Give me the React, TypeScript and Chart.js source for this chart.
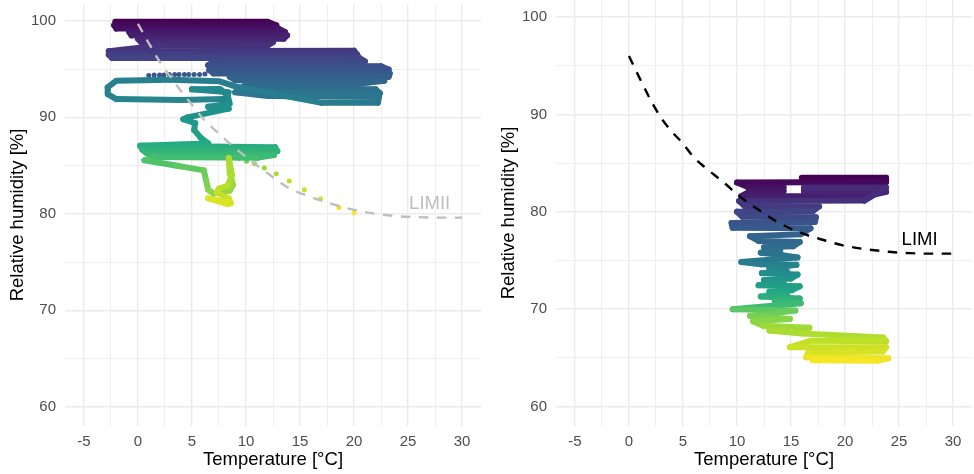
import React, { useEffect, useRef } from "react";
import { Chart, registerables } from "chart.js";

Chart.register(...registerables);

// ---------- axes ----------
const X_MIN = -6.75;
const X_MAX = 31.75;
const Y_MIN = 58;
const Y_MAX = 101.75;
const xMajor = [-5, 0, 5, 10, 15, 20, 25, 30];
const xMinor = [-2.5, 2.5, 7.5, 12.5, 17.5, 22.5, 27.5];
const yMajor = [60, 70, 80, 90, 100];
const yMinor = [65, 75, 85, 95];
const xTitle = "Temperature [°C]";
const yTitle = "Relative humidity [%]";

// ---------- left panel: measured path (temperature, RH, observation fraction) ----------
const leftTemp = [
  -2.1, 12.0, 12.8, -2.2, -2.0, 13.0, 13.6, -0.8, -0.6, 13.8, 13.5, 0.0, 0.3, 12.5, 12.0, 2.0,
  -2.7, 20.0, 20.3, -2.7, -2.4, 20.5, 21.0, 7.0, 6.5, 22.5, 23.2, 6.6, 7.0, 23.3, 23.2, 8.5, 9.0, 22.8, 19.5, 10.0, 9.5, 22.0, 22.4, 9.0, 12.0, 22.3, 22.2, 17.0,
  9.0, 7.5, 3.0, -2.0, -2.8, -2.8, -2.0, 4.0, 8.0, 8.4, 5.0, 7.6, 8.3, 8.5,
  6.5, 8.4, 4.6, 4.2, 5.3, 5.2, 5.8,
  6.5, 0.2, 12.7, 12.9, 0.4, 0.8, 12.6, 11.0, 1.5, 0.6,
  3.5, 6.1, 6.3, 6.5, 7.0, 8.5, 8.8, 8.5, 8.4, 8.7, 8.3, 7.5, 7.3, 8.4, 8.6, 6.5, 8.3,
];
const leftRH = [
  99.9, 99.9, 99.55, 99.55, 99.2, 99.2, 98.85, 98.85, 98.5, 98.5, 98.15, 98.15, 97.8, 97.8, 97.45, 97.45,
  96.85, 96.9, 96.5, 96.5, 96.15, 96.15, 95.8, 95.8, 95.4, 95.3, 94.95, 94.9, 94.55, 94.55, 94.2, 94.2, 93.85, 93.8, 93.35, 93.4, 93.0, 92.9, 92.5, 92.6, 92.2, 92.1, 91.5, 91.5,
  93.2, 93.75, 93.9, 93.8, 93.1, 92.4, 91.9, 91.8, 91.9, 92.6, 92.9, 92.95, 92.3, 91.4,
  91.1, 90.9, 90.0, 89.8, 89.4, 88.7, 87.9,
  87.3, 87.05, 86.9, 86.5, 86.65, 86.3, 86.1, 85.8, 85.9, 85.55,
  85.0, 84.5, 83.5, 82.5, 82.1, 82.4, 83.0, 84.2, 85.8, 84.0, 82.9, 82.6, 82.2, 81.6, 81.1, 81.6, 81.0,
];
const leftTime = [
  0, 0.01, 0.02, 0.03, 0.04, 0.05, 0.06, 0.07, 0.08, 0.09, 0.1, 0.11, 0.12, 0.13, 0.14, 0.15,
  0.16, 0.17, 0.18, 0.19, 0.2, 0.21, 0.22, 0.23, 0.24, 0.25, 0.26, 0.27, 0.28, 0.29, 0.3, 0.31, 0.32, 0.33, 0.34, 0.35, 0.36, 0.37, 0.38, 0.39, 0.39, 0.4, 0.41, 0.42,
  0.42, 0.42, 0.43, 0.43, 0.44, 0.44, 0.45, 0.45, 0.46, 0.46, 0.47, 0.47, 0.48, 0.48,
  0.49, 0.5, 0.51, 0.52, 0.54, 0.56, 0.58,
  0.6, 0.62, 0.63, 0.64, 0.65, 0.66, 0.68, 0.69, 0.7, 0.72,
  0.75, 0.77, 0.8, 0.82, 0.83, 0.84, 0.85, 0.86, 0.87, 0.88, 0.89, 0.9, 0.91, 0.93, 0.94, 0.95, 0.96,
];
// isolated readings (left panel)
const leftDotTemp = [1.0, 1.5, 2.0, 2.4, 2.9, 3.4, 3.8, 4.3, 4.7, 5.2, 5.7, 6.2, 9.35, 10.05, 10.8, 11.7, 12.8, 14.0, 15.4, 16.9, 18.6, 20.0];
const leftDotRH = [94.35, 94.4, 94.4, 94.4, 94.45, 94.45, 94.45, 94.45, 94.45, 94.45, 94.45, 94.5, 85.75, 85.45, 85.2, 84.75, 84.15, 83.4, 82.5, 81.55, 80.65, 80.1];
const leftDotTime = [0.26, 0.26, 0.26, 0.27, 0.27, 0.27, 0.27, 0.28, 0.28, 0.28, 0.28, 0.28, 0.76, 0.79, 0.82, 0.85, 0.87, 0.9, 0.92, 0.95, 0.97, 1.0];
// LIM II curve
const limiiTemp = [0, 1, 2, 3, 4, 5, 6, 7, 8, 9, 10, 12, 14, 16, 18, 20, 22, 24, 26, 28, 30];
const limiiRH = [99.7, 97.7, 95.8, 94.2, 92.7, 91.3, 89.9, 88.8, 87.8, 86.8, 85.9, 84.2, 82.65, 81.75, 81.0, 80.4, 80.0, 79.75, 79.65, 79.6, 79.6];
const limiiLabel = "LIMII";
const limiiLabelTemp = 27;
const limiiLabelRH = 81;

// ---------- right panel ----------
const rightTemp = [
  16.0, 23.8, 23.8, 10.0, 11.0, 14.3, 14.3, 11.2, 10.4, 22.0, 23.8, 16.2, 16.2, 23.8, 21.8, 10.2, 10.7, 17.6, 17.0, 10.0, 10.5, 17.3, 17.2, 9.5, 9.6, 16.8,
  15.9, 11.2, 12.0, 15.8, 15.2, 12.5, 14.0, 12.2, 14.2, 15.6, 10.4, 12.2, 15.5, 13.0, 14.6, 12.3, 15.6, 15.0, 12.5, 14.3, 12.0, 15.8, 15.1, 13.0, 14.6, 12.2, 15.8, 13.5, 15.9,
  9.6, 15.4, 11.2, 14.9, 11.5, 12.4, 16.7, 13.0, 16.0,
  23.5, 23.8, 16.8, 14.9, 23.8, 23.5, 16.6,
  16.4, 24.0, 23.0, 17.0,
];
const rightRH = [
  83.5, 83.5, 83.05, 83.0, 82.55, 82.55, 82.1, 82.1, 81.6, 81.6, 82.05, 82.05, 82.5, 82.5, 81.15, 81.1, 80.6, 80.55, 80.05, 80.0, 79.5, 79.45, 78.95, 78.85, 78.35, 78.3,
  77.7, 77.5, 77.0, 76.9, 76.45, 76.35, 76.05, 75.8, 75.55, 75.3, 74.85, 74.6, 74.55, 74.2, 73.9, 73.7, 73.55, 73.15, 73.0, 72.7, 72.45, 72.35, 71.95, 71.8, 71.5, 71.3, 71.1, 70.8, 70.6,
  70.0, 69.85, 69.3, 69.0, 68.75, 68.3, 68.1, 67.8, 67.5,
  67.1, 66.7, 66.75, 66.1, 66.1, 65.65, 65.55,
  65.05, 64.95, 64.7, 64.75,
];
const rightTime = [
  0, 0.01, 0.02, 0.03, 0.04, 0.05, 0.06, 0.07, 0.08, 0.09, 0.1, 0.11, 0.12, 0.13, 0.14, 0.15, 0.17, 0.18, 0.2, 0.21, 0.22, 0.24, 0.25, 0.27, 0.28, 0.29,
  0.31, 0.32, 0.33, 0.34, 0.35, 0.36, 0.37, 0.38, 0.39, 0.4, 0.42, 0.43, 0.44, 0.46, 0.47, 0.48, 0.5, 0.51, 0.52, 0.54, 0.55, 0.57, 0.58, 0.6, 0.61, 0.63, 0.64, 0.66, 0.68,
  0.74, 0.77, 0.8, 0.82, 0.83, 0.85, 0.86, 0.87, 0.88,
  0.89, 0.9, 0.91, 0.92, 0.93, 0.94, 0.95,
  0.97, 0.98, 0.99, 1.0,
];
// LIM I curve
const limiTemp = [0, 1, 2, 3, 4, 5, 6, 7, 8, 9, 10, 12, 14, 16, 18, 20, 22, 24, 26, 28, 30];
const limiRH = [96.0, 93.7, 91.5, 89.6, 88.2, 87.0, 85.6, 84.6, 83.7, 82.8, 81.8, 80.2, 78.8, 77.8, 77.1, 76.5, 76.15, 75.9, 75.75, 75.7, 75.7];
const limiLabel = "LIMI";
const limiLabelTemp = 26.9;
const limiLabelRH = 77.1;

// ---------- styling helpers ----------
const FONT = "'Liberation Sans', Arial, Helvetica, sans-serif";
const VIRIDIS = ["#440154", "#482475", "#414487", "#355f8d", "#2a788e", "#21918c", "#22a884", "#44bf70", "#7ad151", "#bddf26", "#fde725"];

function hexToRgb(h: string) {
  return [parseInt(h.slice(1, 3), 16), parseInt(h.slice(3, 5), 16), parseInt(h.slice(5, 7), 16)];
}
function viridis(t: number) {
  const c = Math.max(0, Math.min(1, t)) * 10;
  const i = Math.min(9, Math.floor(c));
  const f = c - i;
  const a = hexToRgb(VIRIDIS[i]);
  const b = hexToRgb(VIRIDIS[i + 1]);
  const m = a.map((v, k) => Math.round(v + (b[k] - v) * f));
  return `rgb(${m[0]},${m[1]},${m[2]})`;
}

type PanelDef = {
  temp: number[];
  rh: number[];
  time: number[];
  dotTemp: number[];
  dotRH: number[];
  dotTime: number[];
  curveTemp: number[];
  curveRH: number[];
  curveColor: string;
  label: string;
  labelTemp: number;
  labelRH: number;
  labelColor: string;
  padRight: number;
};

function buildConfig(p: PanelDef): any {
  const pathData = p.temp.map((t, i) => ({ x: t, y: p.rh[i] }));
  const dotData = p.dotTemp.map((t, i) => ({ x: t, y: p.dotRH[i] }));
  const curveData = p.curveTemp.map((t, i) => ({ x: t, y: p.curveRH[i] }));
  const xTicks = [...xMajor, ...xMinor].sort((a, b) => a - b);
  const yTicks = [...yMajor, ...yMinor].sort((a, b) => a - b);

  const labelPlugin = {
    id: "limLabel",
    afterDatasetsDraw(chart: any) {
      const { ctx, scales } = chart;
      ctx.save();
      ctx.font = `18.5px ${FONT}`;
      ctx.fillStyle = p.labelColor;
      ctx.textAlign = "center";
      ctx.textBaseline = "middle";
      ctx.fillText(p.label, scales.x.getPixelForValue(p.labelTemp), scales.y.getPixelForValue(p.labelRH));
      ctx.restore();
    },
  };

  return {
    type: "scatter",
    data: {
      datasets: [
        {
          data: curveData,
          showLine: true,
          borderColor: p.curveColor,
          borderWidth: 2.4,
          borderDash: [9.5, 8.5],
          cubicInterpolationMode: "monotone",
          pointRadius: 0,
          fill: false,
        },
        {
          data: pathData,
          showLine: true,
          borderWidth: 6,
          borderCapStyle: "round",
          borderJoinStyle: "round",
          pointRadius: 0,
          borderColor: viridis(0),
          segment: {
            borderColor: (ctx: any) => viridis(p.time[ctx.p0DataIndex]),
          },
        },
        {
          data: dotData,
          showLine: false,
          pointRadius: 2.5,
          pointBorderWidth: 0,
          pointBackgroundColor: p.dotTime.map((t) => viridis(t)),
        },
      ],
    },
    options: {
      animation: false,
      responsive: false,
      devicePixelRatio: 1,
      events: [],
      layout: { padding: { left: 0, right: p.padRight, top: 0, bottom: 0 } },
      plugins: { legend: { display: false }, tooltip: { enabled: false } },
      scales: {
        x: {
          type: "linear",
          min: X_MIN,
          max: X_MAX,
          afterBuildTicks: (s: any) => {
            s.ticks = xTicks.map((v) => ({ value: v }));
          },
          afterFit: (s: any) => {
            s.height = 48;
            s.paddingLeft = 0;
            s.paddingRight = 0;
          },
          ticks: {
            autoSkip: false,
            maxRotation: 0,
            padding: 7,
            color: "#4D4D4D",
            font: { family: FONT, size: 15 },
            callback: (v: any) => (xMajor.includes(Number(v)) ? String(v) : ""),
          },
          grid: {
            drawTicks: false,
            color: "#EBEBEB",
            lineWidth: (c: any) => (c.tick && xMajor.includes(c.tick.value) ? 1.4 : 0.8),
          },
          border: { display: false },
          title: {
            display: true,
            text: xTitle,
            color: "#000000",
            font: { family: FONT, size: 18.5 },
            padding: { top: 0, bottom: 3 },
          },
        },
        y: {
          type: "linear",
          min: Y_MIN,
          max: Y_MAX,
          afterBuildTicks: (s: any) => {
            s.ticks = yTicks.map((v) => ({ value: v }));
          },
          afterFit: (s: any) => {
            s.width = 65;
            s.paddingTop = 0;
            s.paddingBottom = 0;
          },
          ticks: {
            autoSkip: false,
            padding: 9,
            color: "#4D4D4D",
            font: { family: FONT, size: 15 },
            callback: (v: any) => (yMajor.includes(Number(v)) ? String(v) : ""),
          },
          grid: {
            drawTicks: false,
            color: "#EBEBEB",
            lineWidth: (c: any) => (c.tick && yMajor.includes(c.tick.value) ? 1.4 : 0.8),
          },
          border: { display: false },
          title: {
            display: true,
            text: yTitle,
            color: "#000000",
            font: { family: FONT, size: 18.5 },
            padding: { top: 7, bottom: 0 },
          },
        },
      },
    },
    plugins: [labelPlugin],
  };
}

const leftPanel: PanelDef = {
  temp: leftTemp,
  rh: leftRH,
  time: leftTime,
  dotTemp: leftDotTemp,
  dotRH: leftDotRH,
  dotTime: leftDotTime,
  curveTemp: limiiTemp,
  curveRH: limiiRH,
  curveColor: "#BEBEBE",
  label: limiiLabel,
  labelTemp: limiiLabelTemp,
  labelRH: limiiLabelRH,
  labelColor: "#BEBEBE",
  padRight: 6,
};

const rightPanel: PanelDef = {
  temp: rightTemp,
  rh: rightRH,
  time: rightTime,
  dotTemp: [],
  dotRH: [],
  dotTime: [],
  curveTemp: limiTemp,
  curveRH: limiRH,
  curveColor: "#000000",
  label: limiLabel,
  labelTemp: limiLabelTemp,
  labelRH: limiLabelRH,
  labelColor: "#000000",
  padRight: 2,
};

function Panel({ def, left, width }: { def: PanelDef; left: number; width: number }) {
  const ref = useRef<HTMLCanvasElement>(null);
  useEffect(() => {
    if (!ref.current) return;
    const chart = new Chart(ref.current, buildConfig(def));
    return () => chart.destroy();
  }, [def]);
  return (
    <div style={{ position: "absolute", left, top: 0, width, height: 474 }}>
      <canvas ref={ref} width={width} height={474} style={{ display: "block", width, height: 474 }} />
    </div>
  );
}

export default function App() {
  return (
    <div style={{ position: "absolute", left: 0, top: 0, width: 974, height: 474, background: "#FFFFFF" }}>
      <Panel def={leftPanel} left={0} width={487} />
      <Panel def={rightPanel} left={491} width={483} />
    </div>
  );
}
